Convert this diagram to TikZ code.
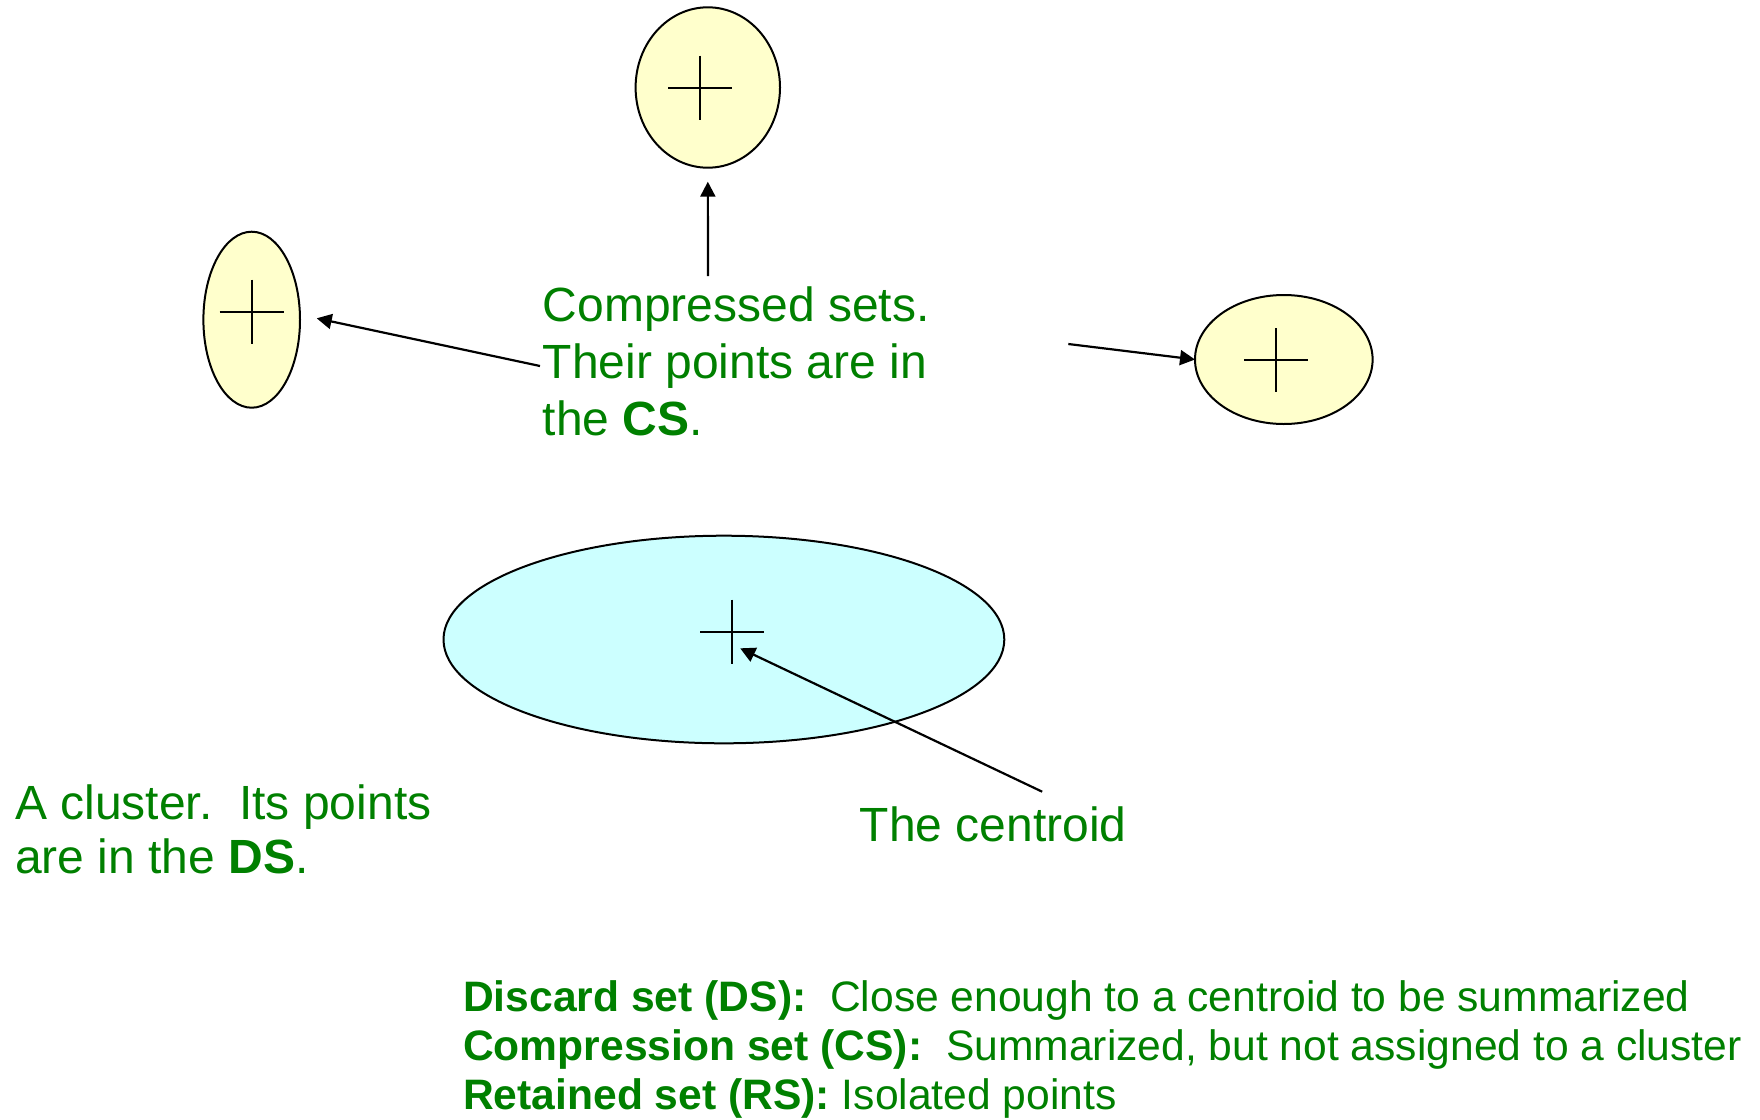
\documentclass[tikz,border=0pt]{standalone}
\usepackage{fontspec}
\setmainfont{Liberation Sans}
\usetikzlibrary{shapes.geometric,arrows.meta}
\definecolor{txtgreen}{RGB}{0,128,0}
\definecolor{csfill}{RGB}{255,255,204}
\definecolor{dsfill}{RGB}{204,255,255}
\frenchspacing
\begin{document}
\begin{tikzpicture}[x=1pt,y=-1pt,
  setell/.style={ellipse, draw=black, line width=2pt, fill=csfill, inner sep=0pt, outer sep=0pt},
  clusterell/.style={setell, fill=dsfill},
  crossline/.style={line width=2pt},
  arr/.style={line width=2.2pt, -{Triangle[length=15pt,width=15pt]}},
  lbl/.style={text=txtgreen, anchor=base west, inner sep=0pt, align=left, font=\fontsize{48}{56.7}\selectfont},
  lbltight/.style={lbl, font=\fontsize{48}{54}\selectfont},
  legend/.style={lbl, font=\fontsize{42.6}{49}\selectfont}]
\useasboundingbox (0,0) rectangle (1760,1119);
\fill[white] (0,0) rectangle (1760,1119);

% sets
\node[setell, minimum width=144.4pt, minimum height=160.4pt] (csTop) at (707.8,87.5) {};
\node[setell, minimum width=96.6pt, minimum height=176pt] (csLeft) at (251.7,319.7) {};
\node[setell, minimum width=177.6pt, minimum height=129pt] (csRight) at (1283.8,359.5) {};
\node[clusterell, minimum width=560.8pt, minimum height=207.6pt] (ds) at (723.9,639.5) {};

% centroid crosses
\coordinate (xTop) at (700,87.7);
\coordinate (xLeft) at (251.7,311.7);
\coordinate (xRight) at (1276,360);
\coordinate (xDs) at (732,631.7);
\foreach \c in {xTop,xLeft,xRight,xDs}
  \draw[crossline] (\c) +(-32,0) -- +(32,0) (\c) +(0,-32) -- +(0,32);

% labels (base anchor = baseline of the last line)
\node[lbl] (csLabel) at (542.6,435.1) {Compressed sets.\\Their points are in\\the \textbf{CS}.};
\node[lbltight] (dsLabel) at (15,873.3) {A cluster.\ \ Its points\\are in the \textbf{DS}.};
\node[lbl] (centLabel) at (859.6,841.7) {The centroid};
\node[legend] (legend) at (463,1109.3) {\textbf{Discard set (DS):}\ \ Close enough to a centroid to be summarized\\\textbf{Compression set (CS):}\ \ Summarized, but not assigned to a cluster\\\textbf{Retained set (RS):} Isolated points};

% arrows
\coordinate (upTail) at (708,276);
\draw[arr, shorten >=14pt] (upTail) -- (csTop.south);
\coordinate (leftTail) at (540,366);
\coordinate (leftTip) at (316.7,318.3);
\draw[arr] (leftTail) -- (leftTip);
\coordinate (rightTail) at (1068.3,344);
\draw[arr] (rightTail) -- (csRight.west);
\coordinate (centTail) at (1042.2,791.7);
\coordinate (centTip) at (740.2,648.3);
\draw[arr] (centTail) -- (centTip);
\end{tikzpicture}
\end{document}
